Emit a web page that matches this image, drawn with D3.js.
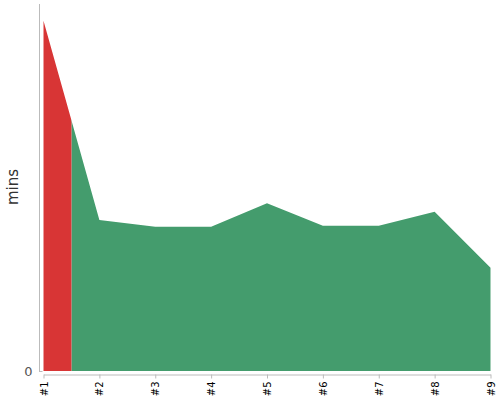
<!DOCTYPE html>
<html><head><meta charset="utf-8">
<script src="https://cdn.jsdelivr.net/npm/d3@7"></script>
<style>body{margin:0;background:#fff}svg{display:block}</style>
</head><body>
<svg id="c" width="500" height="400"></svg>
<script>
const categories = ["#1","#2","#3","#4","#5","#6","#7","#8","#9"];
const values = [19.09, 8.23, 7.86, 7.86, 9.14, 7.92, 7.92, 8.68, 5.63];
const highlighted = ["#1"];
const yTicks = [0];
const yLabel = "mins";

const svg = d3.select("#c");
const x = d3.scalePoint().domain(categories).range([43.5, 490.5]);
const y = d3.scaleLinear().domain([0, 20]).range([371, 4]);
const data = categories.map((c,i)=>({c, v: values[i]}));
const step = x.step();

const area = d3.area().x(d=>x(d.c)).y0(y(0)).y1(d=>y(d.v));
const defs = svg.append("defs");
const cpRed = defs.append("clipPath").attr("id","cpRed");
highlighted.forEach(h=>{
  cpRed.append("rect").attr("x", x(h)-step/2).attr("y",0).attr("width",step).attr("height",400);
});
const cpGreen = defs.append("clipPath").attr("id","cpGreen");
categories.filter(c=>!highlighted.includes(c)).forEach(c=>{
  cpGreen.append("rect").attr("x", x(c)-step/2).attr("y",0).attr("width",step).attr("height",400);
});
svg.append("path").datum(data).attr("d",area).attr("fill","#449c6d").attr("clip-path","url(#cpGreen)");
svg.append("path").datum(data).attr("d",area).attr("fill","#d83535").attr("clip-path","url(#cpRed)");

// y axis
const ya = svg.append("g").attr("transform","translate(39.5,0)")
  .call(d3.axisLeft(y).tickValues(yTicks).tickSize(0).tickPadding(7));
ya.select(".domain").attr("stroke","#bbb").attr("d","M0,4V372");
ya.selectAll("text").attr("fill","#555").attr("font-family","DejaVu Sans").attr("font-size","13px");
ya.selectAll(".tick").append("line").attr("x1",0).attr("x2",3).attr("stroke","#bbb");

// x axis
const xa = svg.append("g").attr("transform","translate(0,374.5)")
  .call(d3.axisBottom(x).tickSize(4).tickSizeOuter(0));
xa.select(".domain").attr("stroke","#bbb");
xa.selectAll(".tick line").attr("stroke","#bbb");
xa.selectAll("text").attr("fill","#000").attr("font-family","DejaVu Sans").attr("font-size","10px")
  .attr("transform","rotate(-90)").attr("text-anchor","end").attr("x",-7).attr("y",0).attr("dy","0.35em");

svg.append("text").attr("transform","translate(18,187) rotate(-90)")
  .attr("text-anchor","middle").attr("font-family","DejaVu Sans").attr("font-size","15px")
  .attr("fill","#333").text(yLabel);
</script>
</body></html>
